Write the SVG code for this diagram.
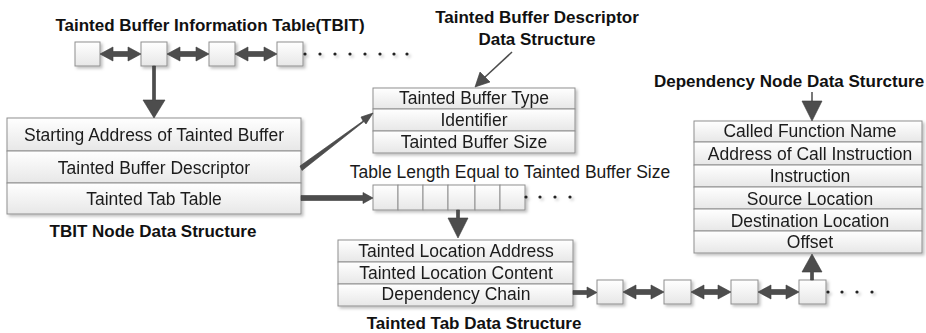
<svg xmlns="http://www.w3.org/2000/svg" width="926" height="333" viewBox="0 0 926 333">
<style>
.bg{fill:#ffffff}
.cell{fill:url(#g);stroke:#8f8f8f;stroke-width:1}
.t{font-family:"Liberation Sans",Arial,sans-serif;font-size:17.5px;fill:#1a1a1a;text-anchor:middle}
.h{font-family:"Liberation Sans",Arial,sans-serif;font-size:17px;font-weight:bold;fill:#111;text-anchor:middle}
.ar{fill:#4d4d4d;stroke:#3a3a3a;stroke-width:0.6;stroke-linejoin:round}
.ln{stroke:#4d4d4d;fill:none}
.dot{fill:#222}
</style>
<defs>
<linearGradient id="g" x1="0" y1="0" x2="0" y2="1">
<stop offset="0" stop-color="#ffffff"/>
<stop offset="1" stop-color="#e7e7e7"/>
</linearGradient>
<filter id="sh" x="-10%" y="-10%" width="130%" height="150%">
<feDropShadow dx="2" dy="2" stdDeviation="1.5" flood-color="#000" flood-opacity="0.25"/>
</filter>
</defs>
<rect class="bg" width="926" height="333"/>

<!-- titles -->
<text class="h" x="210" y="31">Tainted Buffer Information Table(TBIT)</text>
<text class="h" x="537" y="23">Tainted Buffer Descriptor</text>
<text class="h" x="537" y="45">Data Structure</text>
<text class="h" x="789" y="87">Dependency Node Data Sturcture</text>
<text class="h" x="153" y="237">TBIT Node Data Structure</text>
<text class="h" x="474" y="329">Tainted Tab Data Structure</text>
<text class="t" x="510" y="178">Table Length Equal to Tainted Buffer Size</text>

<!-- TBIT chain -->
<g id="tbit-chain" filter="url(#sh)">
<rect class="cell" x="75" y="42" width="25" height="24"/>
<rect class="cell" x="141" y="42" width="26" height="24"/>
<rect class="cell" x="209" y="42" width="26" height="24"/>
<rect class="cell" x="277" y="42" width="26" height="24"/>
<circle class="dot" cx="305" cy="54" r="1.6"/>
<circle class="dot" cx="320" cy="54" r="1.6"/>
<circle class="dot" cx="335" cy="54" r="1.6"/>
<circle class="dot" cx="350" cy="54" r="1.6"/>
<circle class="dot" cx="365" cy="54" r="1.6"/>
<circle class="dot" cx="380" cy="54" r="1.6"/>
<circle class="dot" cx="394" cy="54" r="1.6"/>
<circle class="dot" cx="407" cy="54" r="1.6"/>
</g>

<!-- TBIT node -->
<g id="tbit-node" filter="url(#sh)">
<rect class="cell" x="7" y="118" width="294" height="33"/>
<rect class="cell" x="7" y="151" width="294" height="32"/>
<rect class="cell" x="7" y="183" width="294" height="31"/>
<text class="t" x="154" y="141">Starting Address of Tainted Buffer</text>
<text class="t" x="154" y="174">Tainted Buffer Descriptor</text>
<text class="t" x="154" y="205">Tainted Tab Table</text>
</g>

<!-- descriptor -->
<g id="descriptor" filter="url(#sh)">
<rect class="cell" x="373" y="88" width="202" height="21"/>
<rect class="cell" x="373" y="109" width="202" height="22"/>
<rect class="cell" x="373" y="131" width="202" height="22"/>
<text class="t" x="474" y="104">Tainted Buffer Type</text>
<text class="t" x="474" y="126">Identifier</text>
<text class="t" x="474" y="148">Tainted Buffer Size</text>
</g>

<!-- tab table -->
<g id="tab-table" filter="url(#sh)">
<rect class="cell" x="373" y="185" width="25" height="25"/>
<rect class="cell" x="398" y="185" width="25" height="25"/>
<rect class="cell" x="423" y="185" width="25" height="25"/>
<rect class="cell" x="448" y="185" width="27" height="25"/>
<rect class="cell" x="475" y="185" width="25" height="25"/>
<rect class="cell" x="500" y="185" width="25" height="25"/>
<circle class="dot" cx="526" cy="197" r="1.6"/>
<circle class="dot" cx="540" cy="197" r="1.6"/>
<circle class="dot" cx="555" cy="197" r="1.6"/>
<circle class="dot" cx="570" cy="197" r="1.6"/>
</g>

<!-- tainted tab -->
<g id="tainted-tab" filter="url(#sh)">
<rect class="cell" x="338" y="240" width="235" height="22"/>
<rect class="cell" x="338" y="262" width="235" height="22"/>
<rect class="cell" x="338" y="284" width="235" height="22"/>
<text class="t" x="456" y="257">Tainted Location Address</text>
<text class="t" x="456" y="279">Tainted Location Content</text>
<text class="t" x="456" y="300">Dependency Chain</text>
</g>

<!-- dependency chain -->
<g id="dep-chain" filter="url(#sh)">
<rect class="cell" x="597" y="280" width="26" height="24"/>
<rect class="cell" x="664" y="280" width="27" height="24"/>
<rect class="cell" x="731" y="280" width="27" height="24"/>
<rect class="cell" x="799" y="280" width="27" height="24"/>
<circle class="dot" cx="828" cy="292" r="1.6"/>
<circle class="dot" cx="842" cy="292" r="1.6"/>
<circle class="dot" cx="857" cy="292" r="1.6"/>
<circle class="dot" cx="872" cy="292" r="1.6"/>
</g>

<!-- dependency node -->
<g id="dep-node" filter="url(#sh)">
<rect class="cell" x="694" y="121" width="228" height="21"/>
<rect class="cell" x="694" y="142" width="228" height="23"/>
<rect class="cell" x="694" y="165" width="228" height="22"/>
<rect class="cell" x="694" y="187" width="228" height="22"/>
<rect class="cell" x="694" y="209" width="228" height="22"/>
<rect class="cell" x="694" y="231" width="228" height="22"/>
<text class="t" x="810" y="137">Called Function Name</text>
<text class="t" x="810" y="160">Address of Call Instruction</text>
<text class="t" x="810" y="182">Instruction</text>
<text class="t" x="810" y="205">Source Location</text>
<text class="t" x="810" y="227">Destination Location</text>
<text class="t" x="810" y="248">Offset</text>
</g>

<!-- connectors -->
<g id="connectors">
<!-- TBIT double arrows -->
<polygon class="ar" points="100,54 113,47 113,51.5 128,51.5 128,47 141,54 128,61 128,56.5 113,56.5 113,61"/>
<polygon class="ar" points="167,54 180,47 180,51.5 196,51.5 196,47 209,54 196,61 196,56.5 180,56.5 180,61"/>
<polygon class="ar" points="235,54 248,47 248,51.5 264,51.5 264,47 277,54 264,61 264,56.5 248,56.5 248,61"/>
<!-- dep chain double arrows -->
<polygon class="ar" points="623,292 636,285 636,289.5 651,289.5 651,285 664,292 651,299 651,294.5 636,294.5 636,299"/>
<polygon class="ar" points="691,292 704,285 704,289.5 718,289.5 718,285 731,292 718,299 718,294.5 704,294.5 704,299"/>
<polygon class="ar" points="758,292 771,285 771,289.5 786,289.5 786,285 799,292 786,299 786,294.5 771,294.5 771,299"/>
<!-- TBIT box2 down to node -->
<polygon class="ar" points="152.5,66 155.5,66 155.5,100 165,100 154,118 143,100 152.5,100"/>
<!-- descriptor pointer (diagonal) -->
<polygon class="ar" points="300,166 363,121 361,117 373,113 366,124 364,121.5 302,170.5"/>
<!-- tab table pointer -->
<polygon class="ar" points="301,195.5 363,195.5 363,192.5 373,198 363,203.5 363,200.5 301,200.5"/>
<!-- table down to tainted tab -->
<polygon class="ar" points="456.5,210 459.5,210 459.5,218 468,218 458,238 448,218 456.5,218"/>
<!-- dependency chain pointer -->
<polygon class="ar" points="573,290.5 587,290.5 587,287 597,292.5 587,298 587,294.5 573,294.5"/>
<!-- up to offset -->
<polygon class="ar" points="810.5,280 813.5,280 813.5,272 822,272 812,254 802,272 810.5,272"/>
<!-- descriptor title pointer -->
<line class="ln" x1="512" y1="52" x2="484" y2="78" stroke-width="1.5"/>
<polygon class="ar" points="475,87 480,72 490,82"/>
<!-- dependency title pointer -->
<line class="ln" x1="812" y1="92" x2="812" y2="102" stroke-width="1.5"/>
<polygon class="ar" points="802,101 822,101 812,121"/>
</g>
</svg>
